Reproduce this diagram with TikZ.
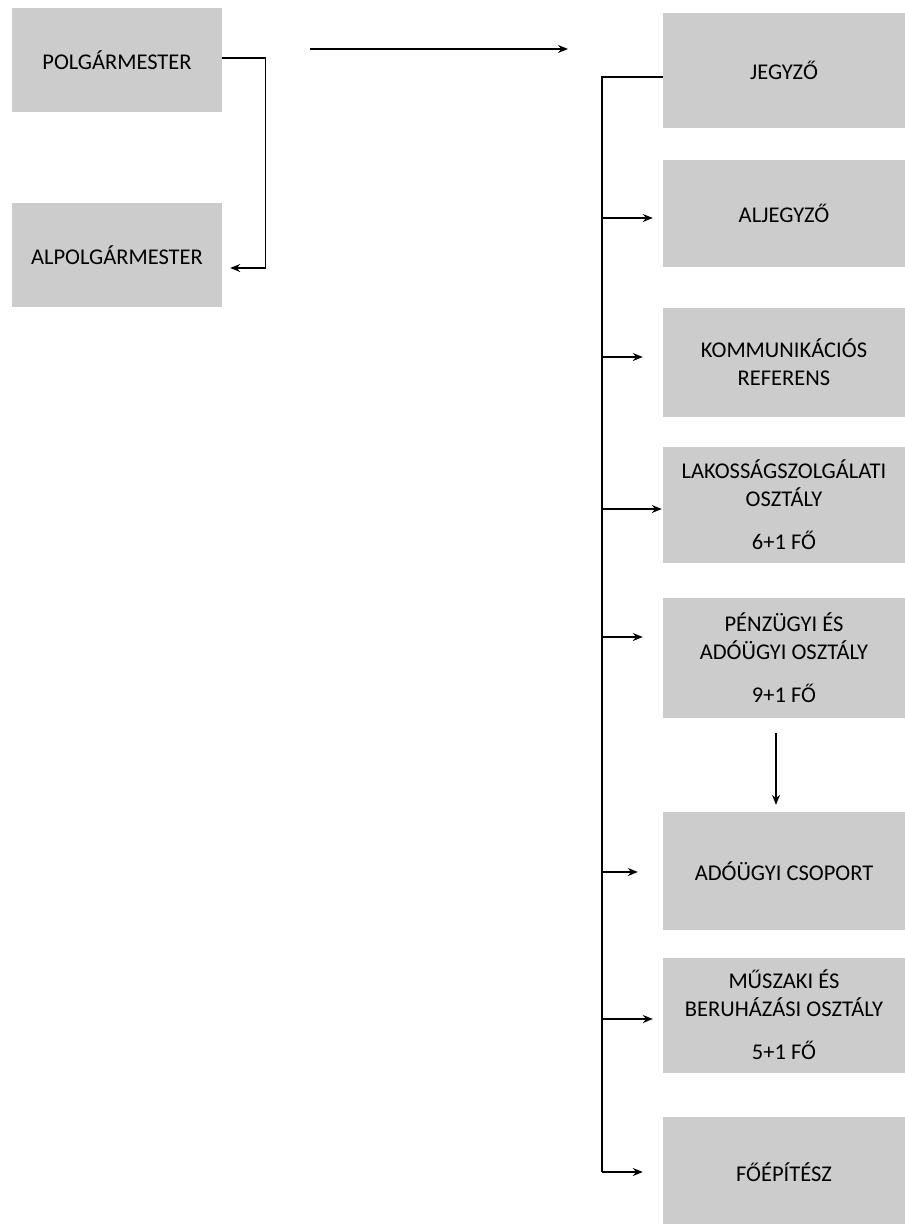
\documentclass[tikz,border=0pt]{standalone}
\usepackage{fontspec}
\setmainfont{Carlito}
\usetikzlibrary{positioning,arrows.meta}
\tikzset{
  unit/.style={
    fill=black!20,
    minimum width=210pt,
    minimum height=104pt,
    inner sep=0pt,
    align=center,
    font=\fontsize{22.5}{28}\selectfont
  },
  office/.style={unit, minimum width=242pt},
  link/.style={line width=1.4pt, -{Stealth[length=10pt,width=8pt]}},
  wire/.style={line width=1.4pt}
}

\begin{document}
\begin{tikzpicture}[x=1pt,y=1pt]
  \useasboundingbox (0,0) rectangle (905,-1224);
  \node [unit] (Mayor) at (117,-60) {POLGÁRMESTER};
  \node [unit, on grid, below=195pt of Mayor] (Deputy) {ALPOLGÁRMESTER};
  \node [office, minimum height=115pt] (Notary) at (784,-70) {JEGYZŐ};
  \node [office, on grid, below=143pt of Notary, minimum height=107pt] (SubNotary) {ALJEGYZŐ};
  \node [office, on grid, below=149pt of SubNotary, minimum height=109pt] (Press) {KOMMUNIKÁCIÓS\\REFERENS};
  \node [office, on grid, below=143pt of Press, minimum height=116pt] (Citizen) {LAKOSSÁGSZOLGÁLATI\\OSZTÁLY\\[15pt]6+1 FŐ};
  \node [office, on grid, below=153pt of Citizen, minimum height=120pt] (Finance) {PÉNZÜGYI ÉS\\ADÓÜGYI OSZTÁLY\\[15pt]9+1 FŐ};
  \node [office, on grid, below=213pt of Finance, minimum height=118pt] (Tax) {ADÓÜGYI CSOPORT};
  \node [office, on grid, below=144pt of Tax, minimum height=115pt] (Works) {MŰSZAKI ÉS\\BERUHÁZÁSI OSZTÁLY\\[15pt]5+1 FŐ};
  \node [office, on grid, below=157pt of Works, minimum height=110pt] (Architect) {FŐÉPÍTÉSZ};

  % free arrow at the top
  \coordinate (ArrowFrom) at (310,-49);
  \coordinate (ArrowTo) at (568,-49);
  \draw [link] (ArrowFrom) -- (ArrowTo);

  % mayor to deputy
  \draw [link] ([yshift=2pt]Mayor.east) -- ++(43pt,0) |- ([xshift=8pt,yshift=-13pt]Deputy.east);

  % notary trunk and branches
  \coordinate (Trunk) at (602,0);
  \draw [wire] ([yshift=-7pt]Notary.west) -| (Trunk |- Architect.west);
  \foreach \unit/\dy/\gap in {SubNotary/-5/10, Press/5/20, Citizen/-4/1, Finance/21/20,
                              Tax/-1/25, Works/-4/10, Architect/0/20} {
    \coordinate (Branch) at ([yshift=\dy pt]\unit.west);
    \draw [link, shorten >=\gap pt] (Trunk |- Branch) -- (Branch);
  }

  % finance to tax group
  \draw [link, shorten <=15pt, shorten >=7pt] ([xshift=-8pt]Finance.south) -- ([xshift=-8pt]Tax.north);
\end{tikzpicture}
\end{document}
